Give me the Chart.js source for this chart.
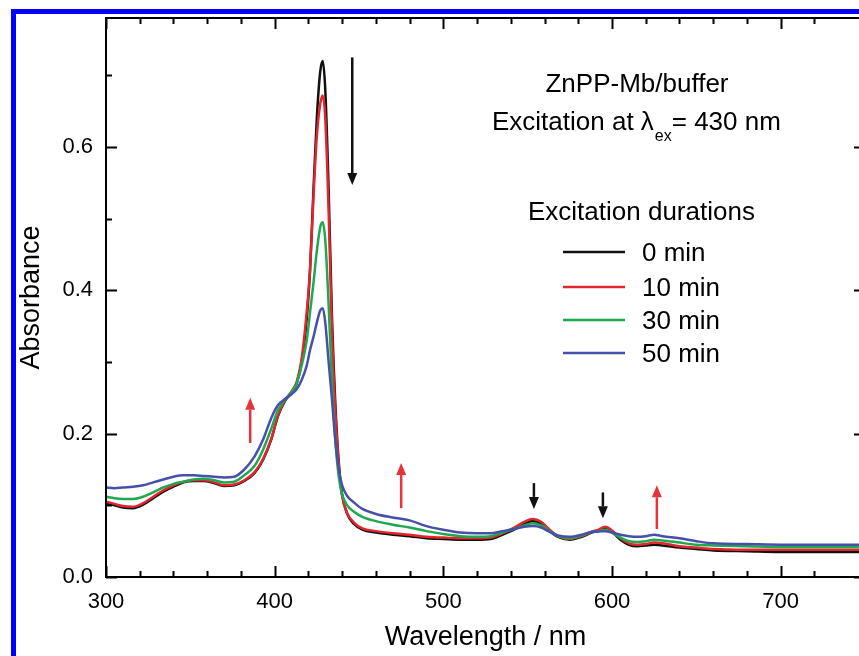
<!DOCTYPE html>
<html>
<head>
<meta charset="utf-8">
<script src="https://cdn.jsdelivr.net/npm/chart.js@4.4.1/dist/chart.umd.min.js"></script>
<style>
html, body { margin: 0; padding: 0; background: #fff; overflow: hidden; }
#wrap { position: absolute; left: 0; top: 0; width: 880px; height: 656px; }
</style>
</head>
<body>
<div id="wrap"><canvas id="myChart" width="880" height="656"></canvas></div>
<script>
// wavelengths (nm), denser around the Soret band
const wavelength = [300, 305, 310, 316, 322, 328, 334, 340, 346, 352, 358, 364, 370, 376, 382, 388, 393, 398,
    402, 406, 410, 413, 416, 419, 421, 423, 425, 427, 428.5, 430, 432, 434, 436, 438, 440, 443, 447, 452,
    460, 470, 480, 490, 500, 510, 520, 528, 535, 542, 548, 553, 558, 563, 568, 575, 582, 588, 592, 596,
    600, 605, 610, 615, 620, 625, 630, 640, 650, 660, 680, 700, 720, 750];

const abs0min = [0.103, 0.100, 0.097, 0.096, 0.101, 0.110, 0.119, 0.126, 0.132, 0.134, 0.134, 0.131, 0.127, 0.128, 0.134, 0.145, 0.163, 0.192,
    0.225, 0.245, 0.258, 0.270, 0.300, 0.360, 0.430, 0.540, 0.640, 0.705, 0.720, 0.680, 0.540, 0.360, 0.240, 0.160, 0.115, 0.088, 0.074, 0.066,
    0.062, 0.059, 0.057, 0.054, 0.053, 0.052, 0.052, 0.053, 0.059, 0.066, 0.074, 0.078, 0.074, 0.064, 0.056, 0.052, 0.056, 0.062, 0.064, 0.068,
    0.063, 0.052, 0.045, 0.043, 0.044, 0.045, 0.044, 0.041, 0.039, 0.037, 0.036, 0.035, 0.035, 0.035];

const abs10min = [0.105, 0.102, 0.099, 0.098, 0.103, 0.112, 0.121, 0.128, 0.133, 0.135, 0.135, 0.132, 0.128, 0.129, 0.135, 0.146, 0.164, 0.193,
    0.226, 0.246, 0.259, 0.272, 0.305, 0.370, 0.430, 0.530, 0.615, 0.660, 0.672, 0.640, 0.510, 0.340, 0.230, 0.155, 0.113, 0.089, 0.076, 0.068,
    0.064, 0.061, 0.059, 0.056, 0.055, 0.054, 0.054, 0.055, 0.061, 0.069, 0.077, 0.081, 0.077, 0.066, 0.057, 0.053, 0.057, 0.063, 0.066, 0.070,
    0.065, 0.054, 0.047, 0.045, 0.046, 0.048, 0.047, 0.043, 0.041, 0.039, 0.038, 0.038, 0.038, 0.038];

const abs30min = [0.112, 0.110, 0.109, 0.109, 0.112, 0.118, 0.125, 0.130, 0.133, 0.136, 0.137, 0.135, 0.132, 0.133, 0.142, 0.155, 0.177, 0.207,
    0.233, 0.247, 0.258, 0.270, 0.295, 0.330, 0.370, 0.410, 0.455, 0.488, 0.495, 0.470, 0.380, 0.270, 0.190, 0.140, 0.115, 0.100, 0.091, 0.084,
    0.078, 0.073, 0.069, 0.064, 0.060, 0.057, 0.056, 0.057, 0.062, 0.067, 0.072, 0.075, 0.072, 0.064, 0.057, 0.054, 0.058, 0.063, 0.064, 0.066,
    0.062, 0.055, 0.050, 0.049, 0.050, 0.052, 0.051, 0.048, 0.045, 0.044, 0.043, 0.042, 0.042, 0.042];

const abs50min = [0.125, 0.124, 0.125, 0.126, 0.128, 0.132, 0.136, 0.140, 0.142, 0.142, 0.141, 0.140, 0.139, 0.140, 0.150, 0.168, 0.191, 0.222,
    0.240, 0.248, 0.255, 0.262, 0.275, 0.295, 0.317, 0.335, 0.355, 0.372, 0.375, 0.355, 0.300, 0.247, 0.190, 0.150, 0.128, 0.113, 0.104, 0.095,
    0.088, 0.083, 0.079, 0.071, 0.066, 0.062, 0.061, 0.061, 0.064, 0.067, 0.070, 0.071, 0.069, 0.063, 0.058, 0.056, 0.059, 0.063, 0.064, 0.064,
    0.062, 0.059, 0.057, 0.056, 0.057, 0.059, 0.057, 0.054, 0.050, 0.047, 0.046, 0.045, 0.045, 0.045];

const durations = ['0 min', '10 min', '30 min', '50 min'];
const lineColors = ['#111111', '#e3262d', '#1fa84f', '#4650a8'];

// arrows in data units: wavelength, tail absorbance, head absorbance
const arrowX = [446, 385.5, 475, 553.7, 594.6, 626.6];
const arrowFrom = [0.725, 0.187, 0.096, 0.131, 0.118, 0.067];
const arrowTo = [0.547, 0.250, 0.159, 0.095, 0.082, 0.128];
const arrowColor = ['#111111', '#e8323c', '#e8323c', '#111111', '#111111', '#e8323c'];

const FONT = "'Liberation Sans', Arial, sans-serif";
Chart.defaults.font.family = FONT;
Chart.defaults.color = '#000';

const series = [abs0min, abs10min, abs30min, abs50min];

const isStep = (v, step) => Math.abs(v / step - Math.round(v / step)) < 1e-6;

const decorations = {
    id: 'decorations',
    beforeDraw: (chart) => {
        const { ctx } = chart;
        ctx.save();
        ctx.fillStyle = '#fff';
        ctx.fillRect(0, 0, chart.width, chart.height);
        // blue frame of the figure
        ctx.fillStyle = '#0000ff';
        ctx.fillRect(11, 9, chart.width, 5);
        ctx.fillRect(11, 9, 5, chart.height);
        ctx.restore();
    },
    afterDraw: (chart) => {
        const { ctx, chartArea: a } = chart;
        const x = chart.scales.x, y = chart.scales.y;
        ctx.save();
        ctx.strokeStyle = '#000';
        ctx.lineWidth = 2;
        ctx.strokeRect(a.left, a.top, a.right - a.left, a.bottom - a.top);

        // inward ticks on all four sides
        ctx.beginPath();
        x.ticks.forEach(t => {
            if (!isStep(t.value, 20)) return;
            const px = Math.round(x.getPixelForValue(t.value)) + 0.5;
            const len = isStep(t.value, 100) ? 11 : 6;
            ctx.moveTo(px, a.bottom); ctx.lineTo(px, a.bottom - len);
            ctx.moveTo(px, a.top); ctx.lineTo(px, a.top + len);
        });
        y.ticks.forEach(t => {
            if (!isStep(t.value, 0.1)) return;
            const py = Math.round(y.getPixelForValue(t.value)) + 0.5;
            const len = isStep(t.value, 0.2) ? 11 : 6;
            ctx.moveTo(a.left, py); ctx.lineTo(a.left + len, py);
            ctx.moveTo(a.right, py); ctx.lineTo(a.right - len, py);
        });
        ctx.stroke();

        // arrows
        arrowX.forEach((w, i) => {
            const px = x.getPixelForValue(w);
            const p0 = y.getPixelForValue(arrowFrom[i]);
            const p1 = y.getPixelForValue(arrowTo[i]);
            const dir = p1 > p0 ? 1 : -1;
            const head = 12, half = 5;
            ctx.strokeStyle = arrowColor[i];
            ctx.fillStyle = arrowColor[i];
            ctx.lineWidth = 2.5;
            ctx.beginPath();
            ctx.moveTo(px, p0);
            ctx.lineTo(px, p1 - dir * head);
            ctx.stroke();
            ctx.beginPath();
            ctx.moveTo(px, p1);
            ctx.lineTo(px - half, p1 - dir * head);
            ctx.lineTo(px + half, p1 - dir * head);
            ctx.closePath();
            ctx.fill();
        });

        // text annotations
        ctx.fillStyle = '#000';
        ctx.textBaseline = 'alphabetic';
        ctx.font = '26px ' + FONT;
        ctx.textAlign = 'center';
        ctx.fillText('ZnPP-Mb/buffer', 637, 92);
        ctx.textAlign = 'left';
        let tx = 492;
        const part1 = 'Excitation at \u03bb';
        ctx.fillText(part1, tx, 130);
        tx += ctx.measureText(part1).width + 1;
        ctx.font = '16px ' + FONT;
        ctx.fillText('ex', tx, 141);
        tx += ctx.measureText('ex').width;
        ctx.font = '26px ' + FONT;
        ctx.fillText('= 430 nm', tx, 130);
        ctx.fillText('Excitation durations', 528, 220);

        // legend
        const rows = [252, 287, 320, 353];
        ctx.textBaseline = 'middle';
        chart.data.datasets.forEach((ds, i) => {
            ctx.strokeStyle = ds.borderColor;
            ctx.lineWidth = 2.5;
            ctx.beginPath();
            ctx.moveTo(563, rows[i]);
            ctx.lineTo(625, rows[i]);
            ctx.stroke();
            ctx.fillText(ds.label, 642, rows[i] + 2);
        });
        ctx.restore();
    }
};

const ctx = document.getElementById('myChart');

new Chart(ctx, {
    type: 'line',
    data: {
        datasets: series.map((vals, i) => ({
            label: durations[i],
            data: wavelength.map((w, j) => ({ x: w, y: vals[j] })),
            borderColor: lineColors[i],
            borderWidth: 2.5,
            pointRadius: 0,
            cubicInterpolationMode: 'monotone',
            fill: false,
            order: 4 - i
        }))
    },
    options: {
        responsive: false,
        animation: false,
        layout: { padding: { top: 18, right: 15, left: 0, bottom: 0 } },
        plugins: {
            legend: { display: false },
            tooltip: { enabled: false }
        },
        scales: {
            x: {
                type: 'linear',
                min: 300,
                max: 750,
                afterFit: (s) => { s.height = 79; s.paddingLeft = 0; s.paddingRight = 0; },
                grid: { display: false, drawTicks: false },
                border: { display: false },
                ticks: {
                    stepSize: 20,
                    autoSkip: false,
                    maxRotation: 0,
                    padding: 12,
                    font: { size: 22 },
                    callback: (v) => isStep(v, 100) ? String(v) : ''
                },
                title: {
                    display: true,
                    text: 'Wavelength / nm',
                    font: { size: 27 },
                    padding: { top: 0, bottom: 2 }
                }
            },
            y: {
                min: 0,
                max: 0.78,
                afterFit: (s) => { s.width = 106; s.paddingTop = 0; s.paddingBottom = 0; },
                grid: { display: false, drawTicks: false },
                border: { display: false },
                ticks: {
                    stepSize: 0.1,
                    autoSkip: false,
                    padding: 13,
                    font: { size: 22 },
                    callback: (v) => isStep(v, 0.2) ? v.toFixed(1) : ''
                },
                title: {
                    display: true,
                    text: 'Absorbance',
                    font: { size: 27 },
                    padding: { top: 15, bottom: 0 }
                }
            }
        }
    },
    plugins: [decorations]
});
</script>
</body>
</html>
